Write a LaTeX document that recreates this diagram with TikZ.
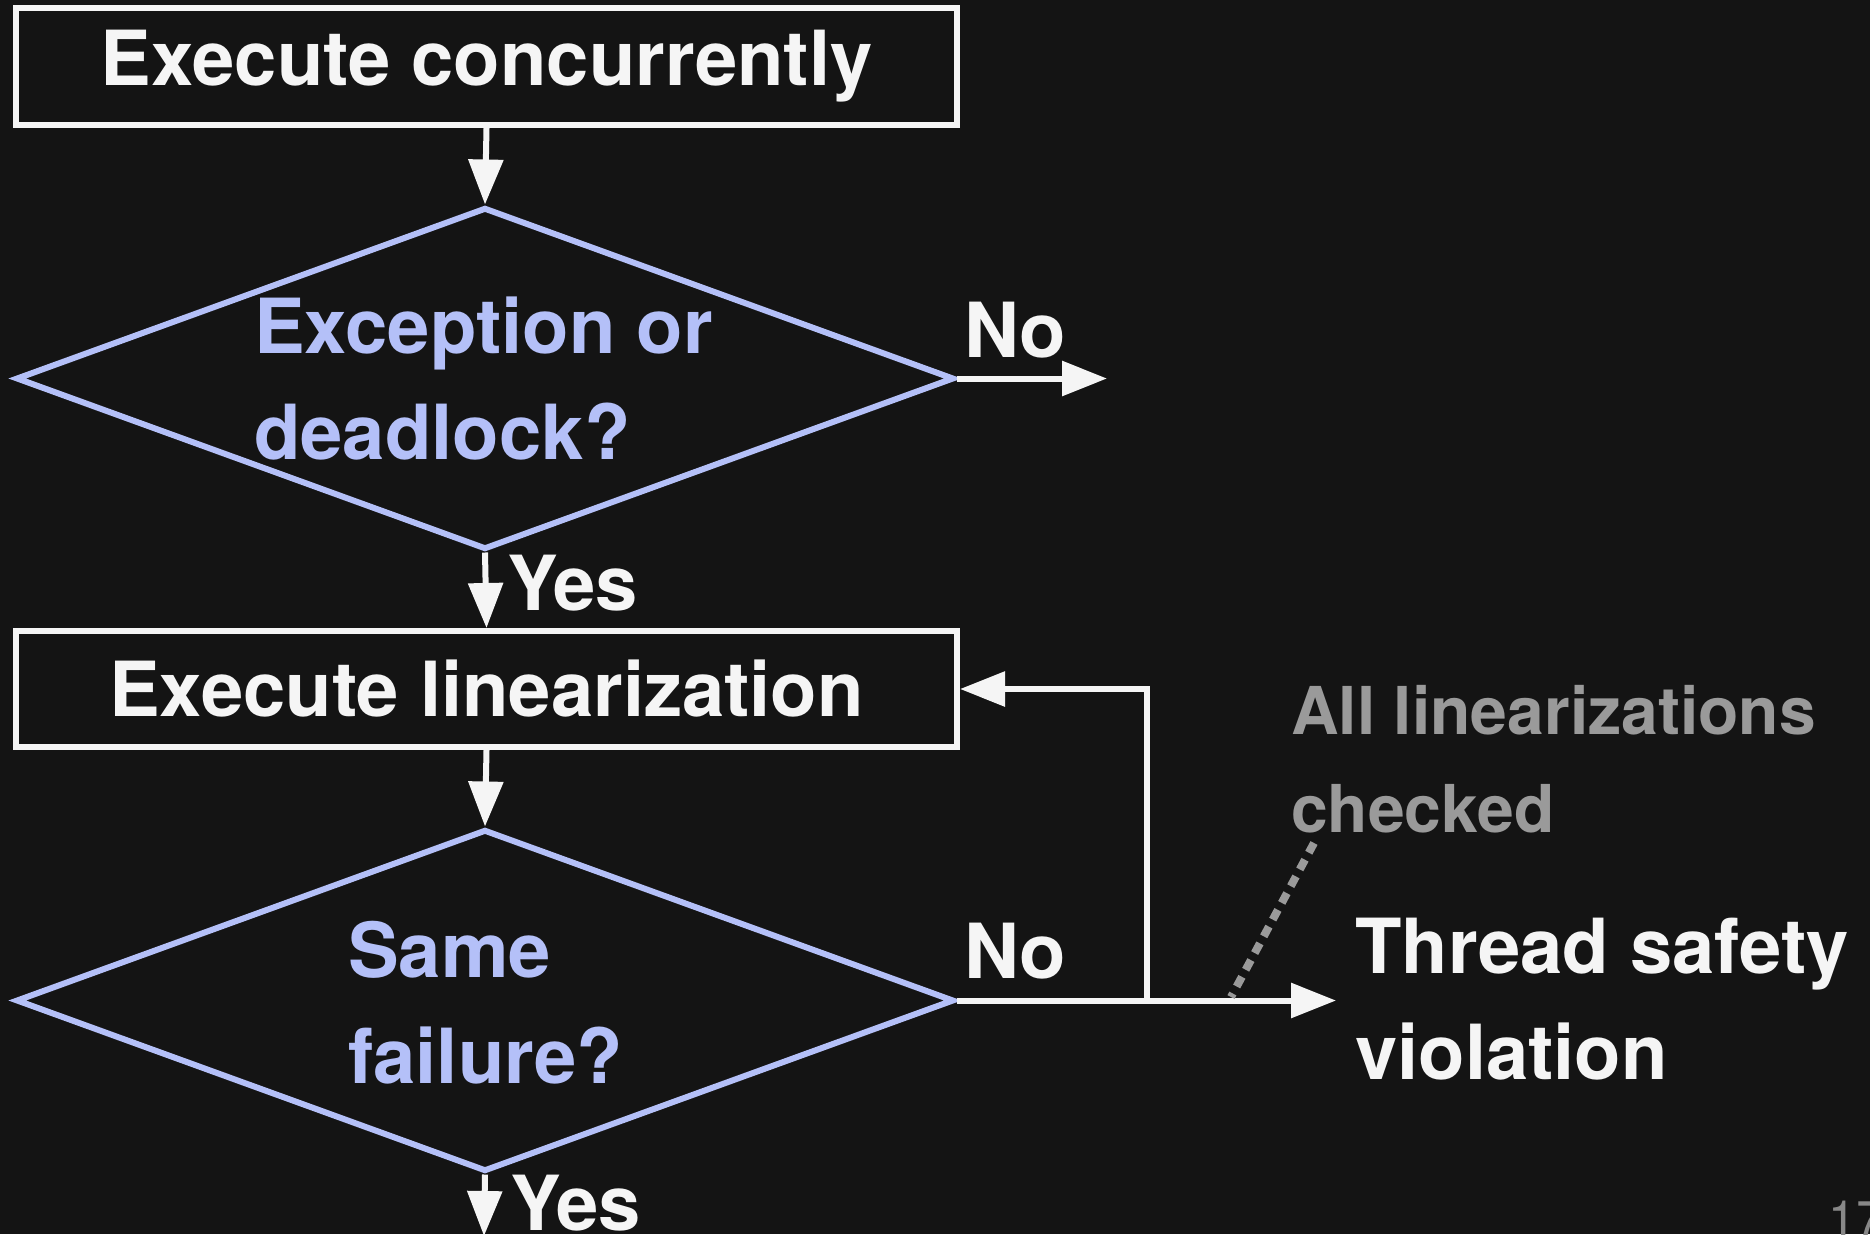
\documentclass[tikz,border=0pt]{standalone}
\usepackage{fontspec}
\setmainfont{TeX Gyre Heros}
\usetikzlibrary{shapes.geometric,arrows.meta}
\definecolor{bg}{HTML}{141414}
\definecolor{fg}{HTML}{F5F5F5}
\definecolor{qblue}{HTML}{B4C0F8}
\definecolor{notegray}{HTML}{9A9A9A}
\definecolor{pnumgray}{HTML}{888888}
\tikzset{
  box/.style={draw=fg, line width=6pt, rectangle, inner sep=0pt, minimum width=941pt,
              text=fg, font=\fontsize{76}{106}\selectfont\bfseries},
  decision/.style={draw=qblue, line width=6pt, diamond, inner sep=0pt, minimum width=938pt,
              minimum height=342pt},
  qtext/.style={text=qblue, inner sep=0pt, align=left, font=\fontsize{76}{106}\selectfont\bfseries},
  wtext/.style={text=fg, inner sep=0pt, align=left, font=\fontsize{76}{106}\selectfont\bfseries},
  ntext/.style={text=notegray, inner sep=0pt, align=left, font=\fontsize{66}{98}\selectfont\bfseries},
  arr/.style={draw=fg, line width=6pt, -{Triangle[length=45pt,width=34pt]}},
  notelink/.style={draw=notegray, line width=8pt, dash pattern=on 11pt off 8pt},
}
\begin{document}
\begin{tikzpicture}[x=1pt,y=-1pt]
  \fill[bg] (0,0) rectangle (1870,1234);
  \useasboundingbox (0,0) rectangle (1870,1234);

  \node[box, minimum height=117pt] (b1) at (486.5,66.5) {Execute concurrently};
  \node[decision] (d1) at (485,378.5) {};
  \node[qtext, anchor=base west] (t1) at (254,459) {Exception or\\deadlock?};
  \node[box, minimum height=116pt] (b2) at (486.5,689) {Execute linearization};
  \node[decision] (d2) at (485,1000.5) {};
  \node[qtext, anchor=base west] (t2) at (348,1083) {Same\\failure?};

  \node[wtext, anchor=base west] (no1) at (964,357) {No};
  \node[wtext, anchor=base west] (yes1) at (507,610) {Yes};
  \node[wtext, anchor=base west] (no2) at (964,978) {No};
  \node[wtext, anchor=base west] (yes2) at (510,1230) {Yes};

  \node[wtext, anchor=base west] (tsv) at (1355,1079) {Thread safety\\violation};
  \node[ntext, anchor=base west] (chk) at (1291,832) {All linearizations\\checked};
  \node[text=pnumgray, inner sep=0pt, anchor=base west, font=\fontsize{50}{60}\selectfont] (pg) at (1828,1236) {17};

  \coordinate (noend) at (1107,378.5);
  \coordinate (tip) at (1336,1000.5);
  \coordinate (loop) at (1147,1000.5);
  \coordinate (bot) at (484,1236);
  \coordinate (dotA) at (1314,843);
  \coordinate (dotB) at (1231,997);

  \draw[arr] (b1.south) -- (d1.north);
  \draw[arr] (d1.east) -- (noend);
  \draw[arr] (d1.south) -- (b2.north);
  \draw[arr] (b2.south) -- (d2.north);
  \draw[arr] (d2.east) -- (tip);
  \draw[arr] (loop) |- (b2.east);
  \draw[arr] (d2.south) -- (bot);
  \draw[notelink] (dotA) -- (dotB);
\end{tikzpicture}
\end{document}
